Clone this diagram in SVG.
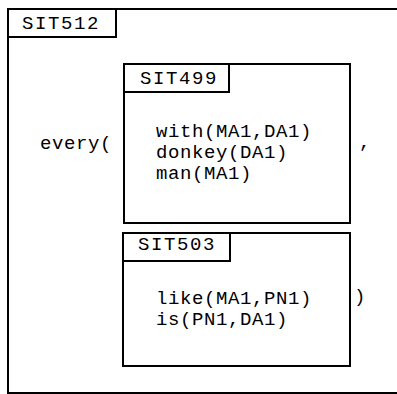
<svg xmlns="http://www.w3.org/2000/svg" width="397" height="394" viewBox="0 0 397 394">
<style>
.ln{fill:none;stroke:#000;stroke-width:2}
.t{font-family:"Liberation Mono","DejaVu Sans Mono",monospace;font-size:19px;letter-spacing:0.6px;fill:#000}
.h{letter-spacing:1.6px}
</style>
<rect width="397" height="394" fill="#fff"/>
<g id="SIT512">
<path class="ln" d="M397,9 H8 V393 H397"/>
<rect class="ln" x="8" y="9" width="108" height="28"/>
<text class="t h" x="22" y="29">SIT512</text>
<text class="t" x="40" y="149">every(</text>
<text class="t" x="359" y="148">,</text>
<text class="t" x="354" y="302">)</text>
</g>
<g id="SIT499">
<rect class="ln" x="124" y="64" width="226" height="159"/>
<rect class="ln" x="124" y="64" width="105" height="28"/>
<text class="t h" x="140" y="84">SIT499</text>
<text class="t" x="156" y="137">with(MA1,DA1)</text>
<text class="t" x="156" y="158">donkey(DA1)</text>
<text class="t" x="156" y="179">man(MA1)</text>
</g>
<g id="SIT503">
<rect class="ln" x="123" y="233" width="227" height="133"/>
<rect class="ln" x="123" y="233" width="107" height="28"/>
<text class="t h" x="138" y="250">SIT503</text>
<text class="t" x="156" y="304">like(MA1,PN1)</text>
<text class="t" x="156" y="325">is(PN1,DA1)</text>
</g>
<g id="connectors"></g>
</svg>
